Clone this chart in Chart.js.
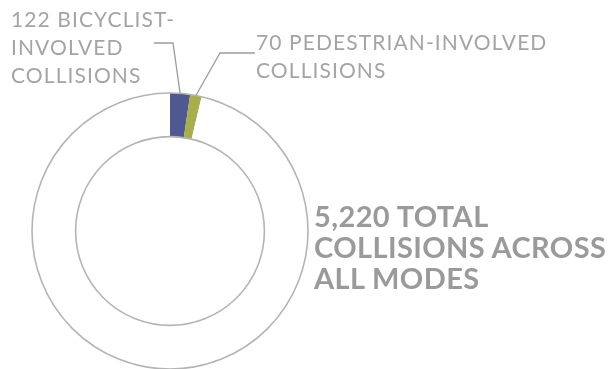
<!DOCTYPE html>
<html>
<head>
<meta charset="utf-8">
<script src="https://cdn.jsdelivr.net/npm/chart.js@4/dist/chart.umd.min.js"></script>
<style>
  html, body { margin: 0; padding: 0; background: #fff; }
  #wrap { position: relative; width: 615px; height: 369px; overflow: hidden; }
  #chart { position: absolute; left: 0; top: 0; }
  .lbl { position: absolute; font-family: Lato, "Noto Sans", sans-serif; color: #a4a4a4; white-space: nowrap; }
  .small { font-size: 21px; line-height: 28px; letter-spacing: 1.1px; }
  .big { font-size: 29px; line-height: 31px; font-weight: bold; color: #9a9a9a; letter-spacing: 0.4px; }
</style>
</head>
<body>
<div id="wrap">
  <canvas id="chart" width="615" height="369"></canvas>
  <div class="lbl small" id="bikeLbl" style="left:11px; top:5px;">122 BICYCLIST-<br>INVOLVED<br>COLLISIONS</div>
  <div class="lbl small" id="pedLbl" style="left:256px; top:28px;">70 PEDESTRIAN-INVOLVED<br>COLLISIONS</div>
  <div class="lbl big" id="totalLbl" style="left:314px; top:200px;">5,220 TOTAL<br>COLLISIONS ACROSS<br>ALL MODES</div>
</div>
<script>
// collision counts
const categories = ['Bicyclist-involved', 'Pedestrian-involved', 'Other collisions'];
const total = 5220;
const bikeCount = 122;
const pedCount = 70;
const counts = [bikeCount, pedCount, total - bikeCount - pedCount];
const sliceColors = ['#4d5990', '#a8ae4a', '#ffffff'];

// elbow points for the leader lines (where they meet the text)
const leaders = [
  { slice: 0, elbow: [173, 43], end: [154, 43] },
  { slice: 1, elbow: [220, 53], end: [255, 53] }
];

// outline of the ring + leader lines, drawn from the arc geometry
const ringOutline = {
  id: 'ringOutline',
  afterDatasetsDraw(chart) {
    const ctx = chart.ctx;
    const arcs = chart.getDatasetMeta(0).data;
    const a = arcs[0];
    ctx.save();
    ctx.strokeStyle = '#b4b4b4';
    ctx.lineWidth = 1.6;
    ctx.beginPath();
    ctx.arc(a.x, a.y, a.outerRadius, 0, Math.PI * 2);
    ctx.stroke();
    ctx.beginPath();
    ctx.arc(a.x, a.y, a.innerRadius, 0, Math.PI * 2);
    ctx.stroke();

    ctx.strokeStyle = '#9c9c9c';
    ctx.lineWidth = 1.3;
    leaders.forEach(l => {
      const arc = arcs[l.slice];
      const mid = (arc.startAngle + arc.endAngle) / 2;
      const sx = arc.x + Math.cos(mid) * arc.outerRadius;
      const sy = arc.y + Math.sin(mid) * arc.outerRadius;
      ctx.beginPath();
      ctx.moveTo(sx, sy);
      ctx.lineTo(l.elbow[0], l.elbow[1]);
      ctx.lineTo(l.end[0], l.end[1]);
      ctx.stroke();
    });
    ctx.restore();
  }
};

new Chart(document.getElementById('chart'), {
  type: 'doughnut',
  data: {
    labels: categories,
    datasets: [{
      data: counts,
      backgroundColor: sliceColors,
      borderWidth: 0
    }]
  },
  options: {
    responsive: false,
    animation: false,
    cutout: '68.4%',
    rotation: 0,
    layout: { padding: { left: 32, top: 93, right: 307, bottom: 0 } },
    plugins: {
      legend: { display: false },
      tooltip: { enabled: false }
    }
  },
  plugins: [ringOutline]
});
</script>
</body>
</html>
